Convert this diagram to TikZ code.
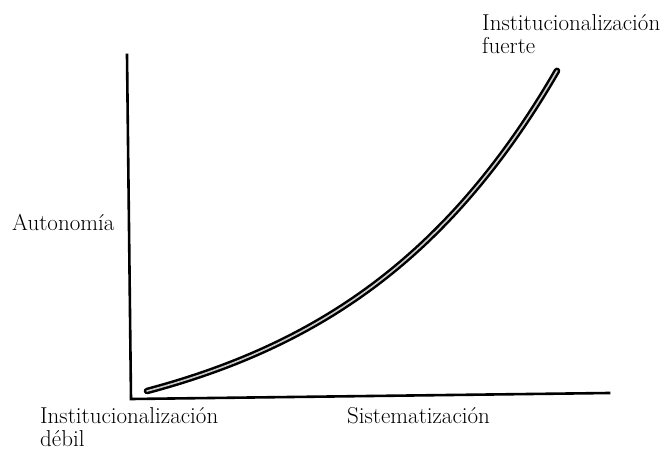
\documentclass[tikz,border=0pt]{standalone}
\usetikzlibrary{positioning}

\begin{document}
\begin{tikzpicture}[x=1pt, y=-1pt,
    axis/.style={line width=2.6pt, line cap=rect},
    growth/.style={line width=2.5pt, double distance=1.6pt, double=gray!40,
                   line cap=round},
    caption/.style={font=\fontsize{23}{22.5}\selectfont, align=left, inner sep=0pt}]
    \useasboundingbox (0,0) rectangle (666,452);
    % axes
    \coordinate (origin) at (131,399);
    \coordinate (ytop)   at (127,55);
    \coordinate (xend)   at (609,393);
    \draw[axis] (ytop) -- (origin) -- (xend);
    % curve
    \draw[growth] plot[domain=147:557, samples=60, smooth]
        (\x, {400 - (9 + 58.3*(exp(0.00457*(\x-147)) - 1))});
    % labels
    \node[caption, anchor=base west] (strong) at (482,53) {Institucionalización\\fuerte};
    \node[caption, anchor=base west] (auto)   at (12,230) {Autonomía};
    \node[caption, anchor=base west] (weak)   at (40,446) {Institucionalización\\débil};
    \node[caption, anchor=base west] (sys)    at (347,423) {Sistematización};
\end{tikzpicture}
\end{document}
